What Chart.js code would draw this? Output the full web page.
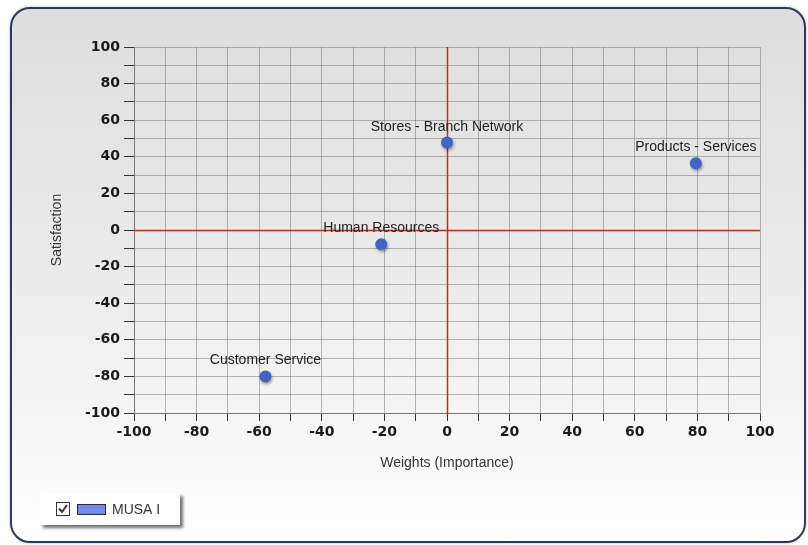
<!DOCTYPE html>
<html>
<head>
<meta charset="utf-8">
<script src="https://cdn.jsdelivr.net/npm/chart.js@4/dist/chart.umd.min.js"></script>
<style>
  html, body { margin: 0; padding: 0; background: #ffffff; width: 808px; height: 545px; overflow: hidden; }
  #panel {
    position: absolute; left: 10px; top: 7px; width: 796px; height: 536px;
    box-sizing: border-box; border: 2px solid #2d3563; border-radius: 20px;
    background: linear-gradient(to bottom, #dedede 0%, #ebebeb 50%, #ffffff 100%);
    box-shadow: 0 0 3px rgba(120,140,200,0.5);
  }
  #c { position: absolute; left: 0; top: 0; }
</style>
</head>
<body>
<div id="panel"></div>
<canvas id="c" width="808" height="545"></canvas>
<script>
// ---- data ----
const categories = ['Products - Services', 'Stores - Branch Network', 'Human Resources', 'Customer Service'];
const weights = [79.5, 0, -21, -58];
const satisfaction = [36.5, 47.8, -7.8, -80];
const seriesName = 'MUSA I';
const xTitle = 'Weights (Importance)';
const yTitle = 'Satisfaction';
const axisMin = -100, axisMax = 100, gridStep = 10, labelStep = 20;
const referenceValue = 0;

const pointColor = '#4263c2';
const legendColor = '#6f8cea';
const gridGray = 'rgba(100,100,100,0.45)';
const zeroRed = 'rgb(200,40,40)';

const points = weights.map((w, i) => ({ x: w, y: satisfaction[i], label: categories[i] }));

// red reference lines at value 0 on both axes, placed through the scales
const zeroLines = {
  id: 'zeroLines',
  beforeDatasetsDraw(chart) {
    const { ctx, chartArea: a, scales: { x, y } } = chart;
    const px = Math.round(x.getPixelForValue(referenceValue)) + 0.5;
    const py = Math.round(y.getPixelForValue(referenceValue)) + 0.5;
    ctx.save();
    ctx.strokeStyle = zeroRed;
    ctx.lineWidth = 1.5;
    ctx.beginPath();
    ctx.moveTo(px, a.top); ctx.lineTo(px, a.bottom + 2);
    ctx.moveTo(a.left, py); ctx.lineTo(a.right, py);
    ctx.stroke();
    ctx.restore();
  }
};

const pointLabels = {
  id: 'pointLabels',
  afterDatasetsDraw(chart) {
    const ctx = chart.ctx;
    const meta = chart.getDatasetMeta(0);
    ctx.save();
    ctx.font = '14px "Liberation Sans", Arial, sans-serif';
    ctx.fillStyle = '#222';
    ctx.textAlign = 'center';
    ctx.textBaseline = 'alphabetic';
    meta.data.forEach((el, i) => {
      ctx.fillText(chart.data.datasets[0].data[i].label, el.x, el.y - 12);
    });
    ctx.restore();
  }
};

const pointShadow = {
  id: 'pointShadow',
  beforeDatasetsDraw(chart) {
    const ctx = chart.ctx;
    ctx.save();
    ctx.shadowColor = 'rgba(0,0,0,0.35)';
    ctx.shadowBlur = 3;
    ctx.shadowOffsetX = 1;
    ctx.shadowOffsetY = 2;
  },
  afterDatasetsDraw(chart) { chart.ctx.restore(); }
};

const boxLegend = {
  id: 'boxLegend',
  afterDraw(chart) {
    const ctx = chart.ctx;
    const ds = chart.data.datasets[0];
    ctx.save();
    ctx.shadowColor = 'rgba(0,0,0,0.55)';
    ctx.shadowBlur = 3;
    ctx.shadowOffsetX = 3;
    ctx.shadowOffsetY = 3;
    ctx.fillStyle = '#ffffff';
    ctx.fillRect(40, 493, 140, 32);
    ctx.restore();
    ctx.save();
    ctx.fillStyle = '#fff';
    ctx.fillRect(56.5, 502.5, 13, 13);
    ctx.strokeStyle = '#333';
    ctx.lineWidth = 1;
    ctx.strokeRect(56.5, 502.5, 13, 13);
    ctx.beginPath();
    ctx.lineWidth = 2;
    ctx.moveTo(59, 508.5);
    ctx.lineTo(62, 512);
    ctx.lineTo(67, 505);
    ctx.stroke();
    ctx.fillStyle = legendColor;
    ctx.fillRect(77.5, 504.5, 28, 10);
    ctx.lineWidth = 1;
    ctx.strokeStyle = '#2a2a4a';
    ctx.strokeRect(77.5, 504.5, 28, 10);
    ctx.fillStyle = '#333';
    ctx.font = '14px "Liberation Sans", Arial, sans-serif';
    ctx.textAlign = 'left';
    ctx.textBaseline = 'middle';
    ctx.fillText(ds.label, 112, 510);
    ctx.restore();
  }
};

const tickFont = { family: '"DejaVu Sans", sans-serif', size: 14, weight: 'bold' };
const titleFont = { family: '"Liberation Sans", Arial, sans-serif', size: 14 };
const labelCb = (v) => (v % labelStep === 0 ? String(v) : '');

new Chart(document.getElementById('c'), {
  type: 'scatter',
  data: {
    datasets: [{
      label: seriesName,
      data: points,
      backgroundColor: pointColor,
      borderColor: pointColor,
      pointRadius: 6,
      pointHoverRadius: 6,
      borderWidth: 0
    }]
  },
  options: {
    responsive: false,
    animation: false,
    events: [],
    layout: { padding: { top: 47, right: 48, left: 10, bottom: 0 } },
    plugins: { legend: { display: false }, tooltip: { enabled: false } },
    scales: {
      x: {
        type: 'linear', min: axisMin, max: axisMax,
        ticks: { stepSize: gridStep, callback: labelCb, autoSkip: false, maxRotation: 0, padding: 3, color: '#1a1a1a', font: tickFont },
        grid: { color: gridGray, tickColor: '#333', tickLength: 8, lineWidth: 1 },
        border: { color: '#777' },
        title: { display: true, text: xTitle, color: '#333', font: titleFont, padding: { top: 0, bottom: 73 } },
        afterFit(s) { s.height = 132; }
      },
      y: {
        type: 'linear', min: axisMin, max: axisMax,
        ticks: { stepSize: gridStep, callback: labelCb, autoSkip: false, padding: 4, color: '#1a1a1a', font: tickFont },
        grid: { color: gridGray, tickColor: '#333', tickLength: 10, lineWidth: 1 },
        border: { color: '#777' },
        title: { display: true, text: yTitle, color: '#333', font: titleFont, padding: { top: 39, bottom: 0 } },
        afterFit(s) { s.width = 124; }
      }
    }
  },
  plugins: [zeroLines, pointShadow, pointLabels, boxLegend]
});
</script>
</body>
</html>
